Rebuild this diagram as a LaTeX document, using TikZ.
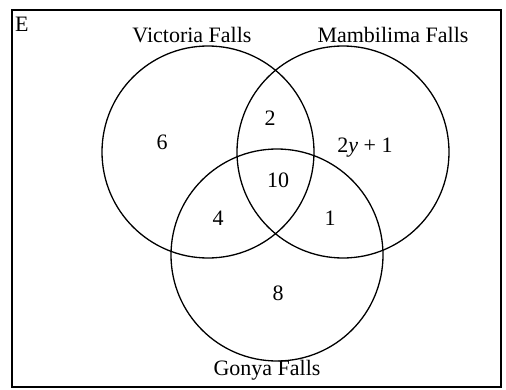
\documentclass[tikz,border=0pt]{standalone}
\usepackage{fontspec}
\setmainfont{Liberation Serif}
\begin{document}
\begin{tikzpicture}[x=1pt, y=1pt,
    setcircle/.style={line width=1.3pt},
    lbl/.style={font=\fontsize{22}{26}\selectfont, inner sep=0pt}]
    \useasboundingbox (0,0) rectangle (506,389);
    % Universalmenge
    \draw[line width=1.4pt] (12,2) rectangle (501,379);
    \node[lbl, anchor=north west] (univ) at (15,372) {E};

    % Kreise
    \draw[setcircle] (208,237) circle (106);
    \draw[setcircle] (343,237) circle (106);
    \draw[setcircle] (277,134) circle (106);

    % Namen
    \node[lbl] (vic) at (192,354) {Victoria Falls};
    \node[lbl] (mam) at (393,354) {Mambilima Falls};
    \node[lbl] (gon) at (267,19) {Gonya Falls};

    % Anzahlen
    \node[lbl] (onlyv) at (162,247) {6};
    \node[lbl] (vm) at (270,271) {2};
    \node[lbl] (onlym) at (365,241) {2\textit{y} + 1};
    \node[lbl] (all) at (278,209) {10};
    \node[lbl] (vg) at (218,171) {4};
    \node[lbl] (mg) at (330,171) {1};
    \node[lbl] (onlyg) at (278,96) {8};
\end{tikzpicture}
\end{document}
